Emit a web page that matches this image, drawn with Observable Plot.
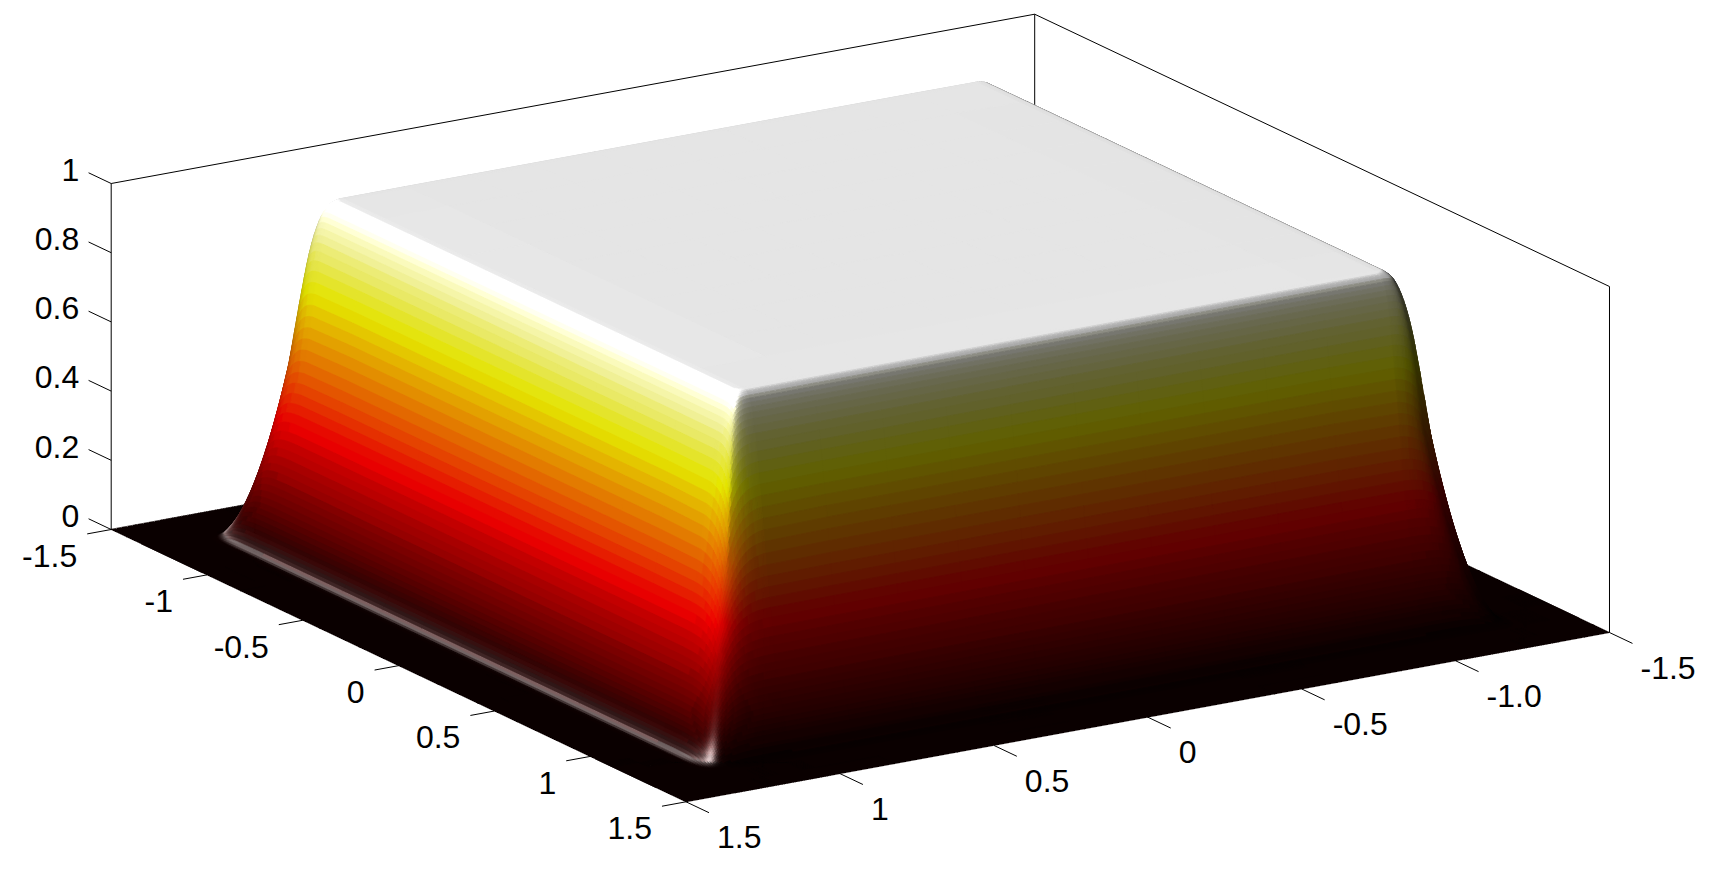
<!DOCTYPE html>
<html><head><meta charset="utf-8">
<style>html,body{margin:0;padding:0;background:#fff}svg{display:block}</style>
<script src="https://cdn.jsdelivr.net/npm/d3@7"></script>
<script src="https://cdn.jsdelivr.net/npm/@observablehq/plot@0.6"></script>
</head><body><div id="chart"></div>
<script>
// ticks and labels
const uTicks=[-1.5,-1,-0.5,0,0.5,1,1.5];
const uLabels=["-1.5","-1","-0.5","0","0.5","1","1.5"];
const vTicks=[1.5,1,0.5,0,-0.5,-1,-1.5];
const vLabels=["1.5","1","0.5","0","-0.5","-1.0","-1.5"];
const zTicks=[0,0.2,0.4,0.6,0.8,1];
const zLabels=["0","0.2","0.4","0.6","0.8","1"];
// height of the wall against distance from the centre
const profileDistance=[0.9,1.05,1.07,1.085,1.10,1.115,1.13,1.15,1.17,1.19,1.21,1.23,1.25,1.27,1.285,1.30,1.315,1.33,1.6];
const profileHeight  =[1,0.998,0.985,0.955,0.905,0.835,0.745,0.62,0.49,0.375,0.275,0.19,0.12,0.065,0.035,0.013,0.003,0,0];

const slopes=profileDistance.map((_,i)=>{
  if(i==0||i==profileDistance.length-1) return 0;
  const a=(profileHeight[i]-profileHeight[i-1])/(profileDistance[i]-profileDistance[i-1]);
  const b=(profileHeight[i+1]-profileHeight[i])/(profileDistance[i+1]-profileDistance[i]);
  return a*b<=0?0:2*a*b/(a+b);
});
function wall(d){
  let i=d3.bisectRight(profileDistance,d)-1;
  i=Math.max(0,Math.min(profileDistance.length-2,i));
  const h=profileDistance[i+1]-profileDistance[i],t=Math.max(0,Math.min(1,(d-profileDistance[i])/h));
  const t2=t*t,t3=t2*t;
  return (2*t3-3*t2+1)*profileHeight[i]+(t3-2*t2+t)*h*slopes[i]+(-2*t3+3*t2)*profileHeight[i+1]+(t3-t2)*h*slopes[i+1];
}
const roundness=(m)=>{const t=Math.max(0,Math.min(1,(m-1.07)/0.08));return 90+(36-90)*t*t*(3-2*t);};
const dist=(u,v)=>{const m=Math.max(Math.abs(u),Math.abs(v),1e-6),P=roundness(m);return m*Math.pow(Math.pow(Math.abs(u)/m,P)+Math.pow(Math.abs(v)/m,P),1/P);};
const height=(u,v)=>wall(dist(u,v));
// orthographic camera fitted to the box corners
const cam=(u,v,z)=>({
  x:110.7+(u+1.5)*191.6+(1.5-v)*307.83,
  y:529+(u+1.5)*90.77-(1.5-v)*56.43-z*346
});
function hot(z){
  const k=Math.min(63,Math.max(0,Math.floor(z*64)))+1;
  return [Math.min(1,k/24),Math.max(0,Math.min(1,(k-24)/24)),Math.max(0,Math.min(1,(k-48)/16))];
}
const H1=[0.1,0.7,0.7],H2=[-0.1,0.7,0.7],HB=[0,0.7071,0.7071],H3=[0.42,0.6,0.68],H4=[-0.42,0.6,0.68];
function shade(u,v,z){
  const e=0.002;
  const zu=(height(u+e,v)-height(u-e,v))/(2*e),zv=(height(u,v+e)-height(u,v-e))/(2*e);
  const l=Math.hypot(zu,zv,1),n=[-zu/l,-zv/l,1/l];
  if(1.613*n[0]+n[1]+0.59*n[2]<-0.02) return null;
  const f=Math.max(0.2,0.2+0.16*n[0]+0.61*n[1]+0.675*n[2]*n[2]);
  const dot=(a)=>Math.max(0,a[0]*n[0]+a[1]*n[1]+a[2]*n[2]);
  const s=0.35*(Math.pow(dot(H1),50)+Math.pow(dot(H2),50))+0.8*Math.pow(dot(H3),40)+0.55*Math.pow(dot(H4),40);
  const b=0.4*Math.pow(dot(HB),8);
  const c=hot(z).map(q=>Math.round(255*Math.min(1,q*(f+b)+s)));
  return `rgb(${c[0]},${c[1]},${c[2]})`;
}
// mesh
const edges=[];
const add=(a,b,n)=>{for(let i=0;i<n;i++)edges.push(a+(b-a)*i/n);};
add(-1.5,-1.34,2);add(-1.34,-1.03,62);add(-1.03,1.03,10);add(1.03,1.34,62);add(1.34,1.5,2);edges.push(1.5);
const cells=[];
let id=0;
for(let i=0;i<edges.length-1;i++)for(let j=0;j<edges.length-1;j++){
  const u0=edges[i],u1=edges[i+1],v0=edges[j],v1=edges[j+1];
  const um=(u0+u1)/2,vm=(v0+v1)/2,zm=height(um,vm);
  const col=shade(um,vm,zm);
  if(!col) continue;
  id++;
  for(const [a,b] of [[u0,v0],[u1,v0],[u1,v1],[u0,v1]]){
    const p=cam(a,b,height(a,b));
    cells.push({x:p.x,y:p.y,id,col});
  }
}
const boxLines=[
  [[-1.5,1.5,0],[-1.5,1.5,1]],
  [[-1.5,1.5,1],[-1.5,-1.5,1]],
  [[-1.5,-1.5,1],[1.5,-1.5,1]],
  [[-1.5,-1.5,1],[-1.5,-1.5,0]],
  [[1.5,-1.5,1],[1.5,-1.5,0]]
];
const toLinks=(list)=>list.map(([a,b])=>{const p=cam(...a),q=cam(...b);return {x1:p.x,y1:p.y,x2:q.x,y2:q.y};});
const tickLinks=toLinks([
  ...uTicks.map(u=>[[u,1.5,0],[u,1.5+0.078,0]]),
  ...vTicks.map(v=>[[1.5,v,0],[1.5+0.12,v,0]]),
  ...zTicks.map(z=>[[-1.5,1.5,z],[-1.5-0.118,1.5,z]])
]);
const uText=uTicks.map((u,i)=>({...cam(u,1.5,0),t:uLabels[i]}));
const vText=vTicks.map((v,i)=>({...cam(1.5,v,0),t:vLabels[i]}));
const zText=zTicks.map((z,i)=>({...cam(-1.5,1.5,z),t:zLabels[i]}));
const font={fontFamily:"Liberation Sans",fontSize:32,fill:"#000",text:"t",x:"x",y:"y"};
const link={x1:"x1",y1:"y1",x2:"x2",y2:"y2",stroke:"#000",strokeWidth:1};
const chart=Plot.plot({
  width:1719,height:873,margin:0,
  x:{domain:[0,1719],range:[0,1719],axis:null},
  y:{domain:[0,873],range:[0,873],axis:null},
  color:{type:"identity"},
  style:{background:"#fff"},
  marks:[
    Plot.link(toLinks(boxLines),link),
    Plot.line(cells,{x:"x",y:"y",z:"id",fill:"col",stroke:"col",strokeWidth:0.8,curve:"linear-closed",shapeRendering:"crispEdges"}),
    Plot.link(tickLinks,link),
    Plot.text(uText,{...font,textAnchor:"end",dx:-34,dy:27}),
    Plot.text(vText,{...font,textAnchor:"start",dx:31,dy:36}),
    Plot.text(zText,{...font,textAnchor:"end",dx:-32,dy:-13})
  ]
});
document.getElementById("chart").appendChild(chart);
</script></body></html>
